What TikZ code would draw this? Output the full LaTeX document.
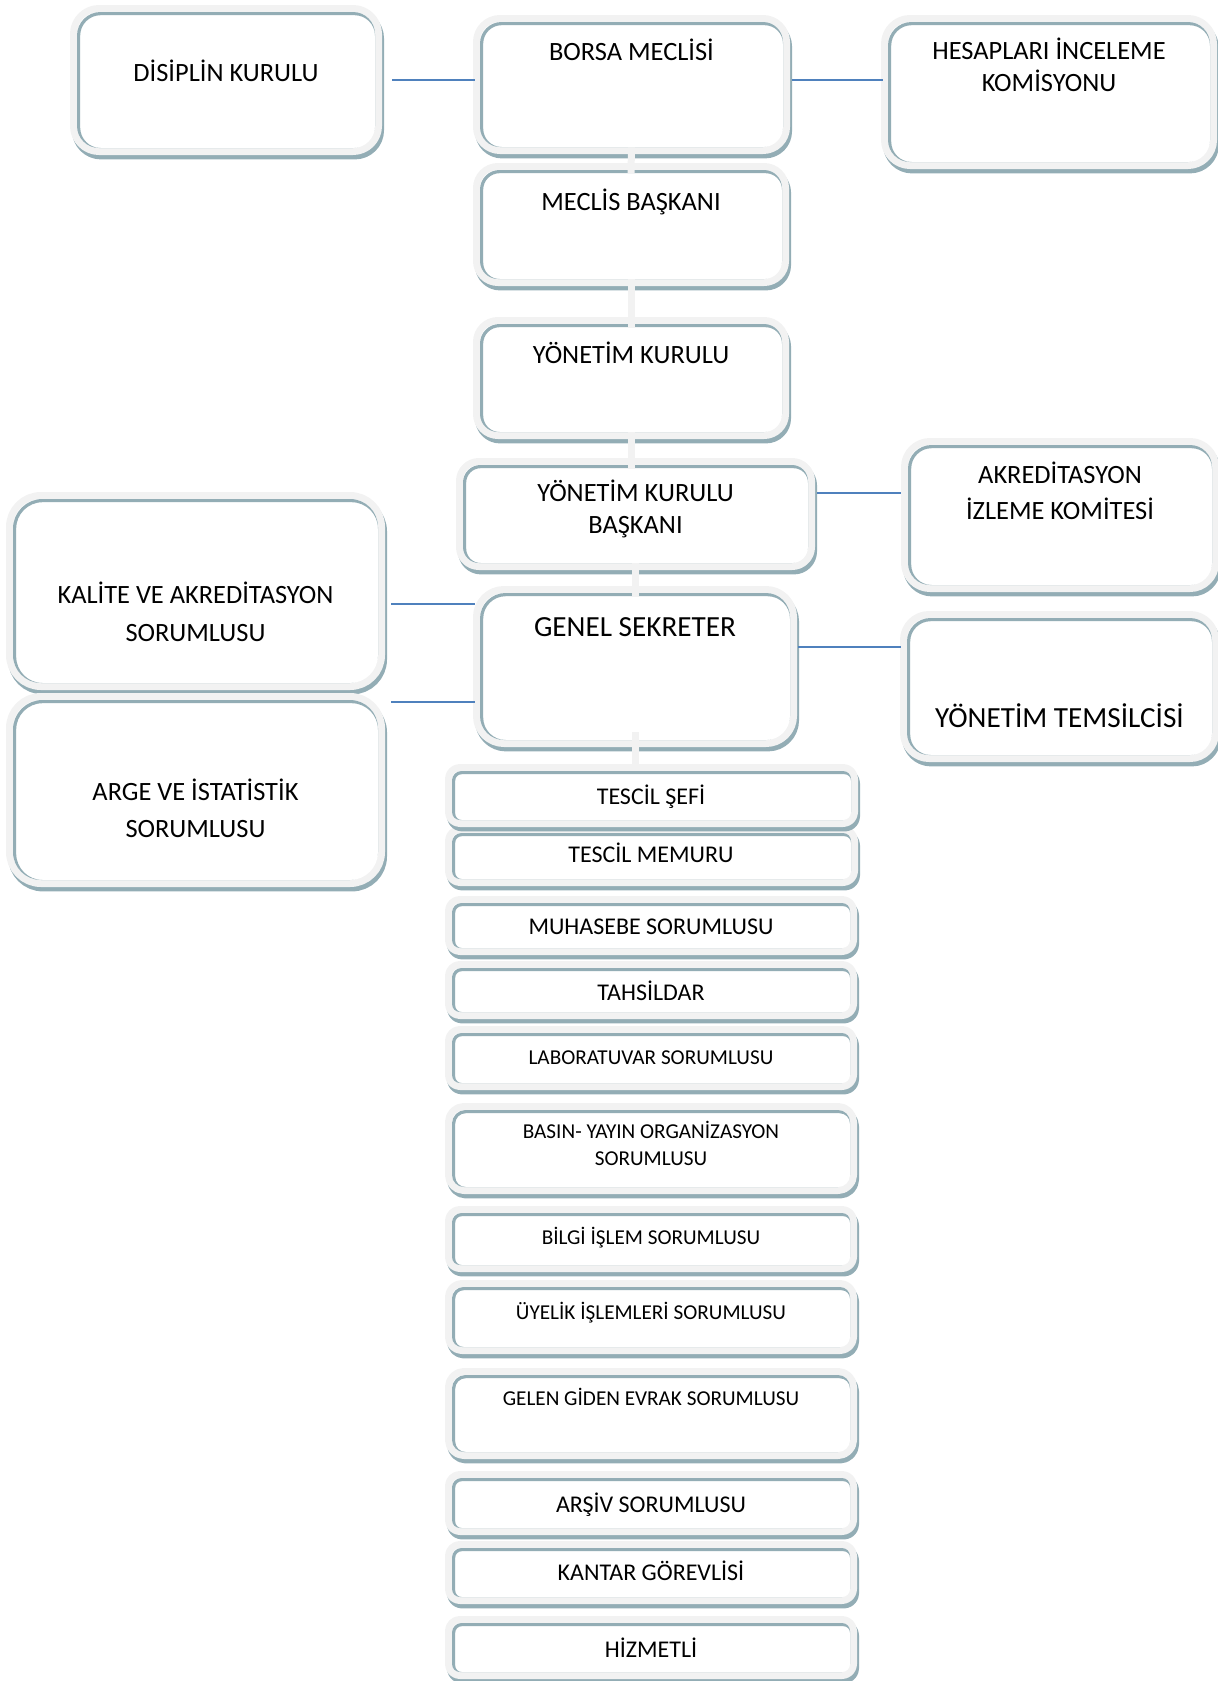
\documentclass[tikz,border=0pt]{standalone}
\usepackage{fontspec}
\setmainfont{Carlito}
\usetikzlibrary{fit,shadows}

\definecolor{bandgray}{RGB}{242,242,242}
\definecolor{edgeteal}{RGB}{147,173,181}
\definecolor{linkblue}{RGB}{79,129,189}

\tikzset{
  box/.style={rounded corners=#1,fill=white,inner sep=0pt,
    general shadow={draw=edgeteal,fill=edgeteal,line width=7pt,shadow xshift=1pt,shadow yshift=-2.2pt},
    preaction={draw=bandgray,line width=7pt},
    path picture={\draw[edgeteal,line width=1.6pt,rounded corners=#1]
      ([shift={(.8pt,-.8pt)}]path picture bounding box.south west) rectangle
      ([shift={(.8pt,-.8pt)}]path picture bounding box.north east);}},
  txt/.style={align=center,inner sep=0pt,execute at begin node=\strut,execute at end node=\strut},
  big/.style={txt,font=\fontsize{13.2}{16}\selectfont},
  huge/.style={txt,font=\fontsize{14.6}{18}\selectfont},
  unit/.style={txt,font=\fontsize{12}{14}\selectfont},
  small/.style={txt,font=\fontsize{10.6}{13.5}\selectfont},
  link/.style={linkblue,line width=1pt,shorten <=4.5pt,shorten >=2.5pt},
  bar/.style={bandgray,line width=3.5pt}
}

\begin{document}
\begin{tikzpicture}[x=.5pt,y=-.5pt,line join=round]
  \useasboundingbox (0,0) rectangle (1217,1681);
  % upper boards
  \node[box=11pt,fit={(77,12)(375,148)}] (disiplin) {};
  \node[box=10pt,fit={(480,22)(783,147)}] (borsa) {};
  \node[box=11pt,fit={(888,22)(1210,162)}] (hesap) {};
  \node[box=9pt,fit={(480,170)(782,279)}] (meclis) {};
  \node[box=9pt,fit={(480,324)(782,432)}] (yk) {};
  \node[box=8pt,fit={(463,465)(808,563)}] (ykb) {};
  \node[box=11pt,fit={(908,445)(1212,585)}] (akred) {};
  \node[box=14pt,fit={(13,499)(378,683)}] (kalite) {};
  \node[box=12pt,fit={(480,593)(790,740)}] (genel) {};
  \node[box=11pt,fit={(907,618)(1212,755)}] (ytems) {};
  \node[box=14pt,fit={(13,700)(378,880)}] (arge) {};
  % staff under the secretary
  \node[box=4pt,fit={(452,833)(851,879)}] (tmemur) {};
  \node[box=4pt,fit={(452,771)(851,820)}] (tsefi) {};
  \node[box=4pt,fit={(452,903)(850,948)}] (muhasebe) {};
  \node[box=4pt,fit={(452,968)(850,1012)}] (tahsil) {};
  \node[box=4pt,fit={(452,1033)(850,1083)}] (lab) {};
  \node[box=6pt,fit={(452,1110)(850,1187)}] (basin) {};
  \node[box=4pt,fit={(452,1213)(850,1265)}] (bilgi) {};
  \node[box=5pt,fit={(452,1287)(850,1347)}] (uyelik) {};
  \node[box=6pt,fit={(452,1375)(850,1452)}] (gelen) {};
  \node[box=4pt,fit={(452,1478)(850,1528)}] (arsiv) {};
  \node[box=4pt,fit={(452,1548)(850,1597)}] (kantar) {};
  \node[box=4pt,fit={(452,1623)(850,1672)}] (hizmet) {};

  \node[big] (disiplin-t) at (226,75) {DİSİPLİN KURULU};
  \node[big] (borsa-t) at (631.5,54) {BORSA MECLİSİ};
  \node[big] (hesap-t) at (1049,70) {HESAPLARI İNCELEME\\KOMİSYONU};
  \node[big] (meclis-t) at (631,204) {MECLİS BAŞKANI};
  \node[big] (yk-t) at (631,357) {YÖNETİM KURULU};
  \node[big] (ykb-t) at (635.5,512) {YÖNETİM KURULU\\BAŞKANI};
  \node[big,font=\fontsize{13.2}{18}\selectfont] (akred-t) at (1060,496) {AKREDİTASYON\\İZLEME KOMİTESİ};
  \node[big,font=\fontsize{13.2}{19}\selectfont] (kalite-t) at (195.5,617) {KALİTE VE AKREDİTASYON\\SORUMLUSU};
  \node[huge] (genel-t) at (635,629) {GENEL SEKRETER};
  \node[huge] (ytems-t) at (1059.5,720) {YÖNETİM TEMSİLCİSİ};
  \node[big,font=\fontsize{13.2}{18.5}\selectfont] (arge-t) at (195.5,814) {ARGE VE İSTATİSTİK\\SORUMLUSU};
  \node[unit] (tsefi-t) at (651,799) {TESCİL ŞEFİ};
  \node[unit] (tmemur-t) at (651,857) {TESCİL MEMURU};
  \node[unit] (muhasebe-t) at (651,929) {MUHASEBE SORUMLUSU};
  \node[unit] (tahsil-t) at (651,995) {TAHSİLDAR};
  \node[small] (lab-t) at (651,1059) {LABORATUVAR SORUMLUSU};
  \node[small] (basin-t) at (651,1147) {BASIN- YAYIN ORGANİZASYON\\SORUMLUSU};
  \node[small] (bilgi-t) at (651,1239) {BİLGİ İŞLEM SORUMLUSU};
  \node[small] (uyelik-t) at (651,1314) {ÜYELİK İŞLEMLERİ SORUMLUSU};
  \node[small] (gelen-t) at (651,1400) {GELEN GİDEN EVRAK SORUMLUSU};
  \node[unit] (arsiv-t) at (651,1507) {ARŞİV SORUMLUSU};
  \node[unit] (kantar-t) at (651,1575) {KANTAR GÖREVLİSİ};
  \node[unit] (hizmet-t) at (651,1652) {HİZMETLİ};

  % side links
  \draw[link,shorten <=8.5pt] (disiplin.east) -- (disiplin.east -| borsa.west);
  \draw[link] (borsa.east |- disiplin.east) -- (disiplin.east -| hesap.west);
  \draw[link,shorten >=3.5pt] (ykb.7) -- (ykb.7 -| akred.west);
  \draw[link,shorten <=6.5pt] (kalite.east |- genel.158) -- (genel.158);
  \draw[link,shorten <=6.5pt] (arge.east |- genel.193) -- (genel.193);
  \draw[link,shorten <=4pt,shorten >=3pt] (genel.7) -- (genel.7 -| ytems.west);

  % chain down the middle
  \draw[bar] (borsa.south) -- ([yshift=-2pt]meclis.north);
  \draw[bar] (meclis.south) -- ([yshift=-2pt]yk.north);
  \draw[bar] (yk.south) -- ([yshift=-2pt]yk.south |- ykb.north);
  \draw[bar] (genel.north |- ykb.south) -- ([yshift=-2pt]genel.north);
  \draw[bar] ([yshift=4pt]genel.south) -- (genel.south |- tsefi.north);
\end{tikzpicture}
\end{document}
